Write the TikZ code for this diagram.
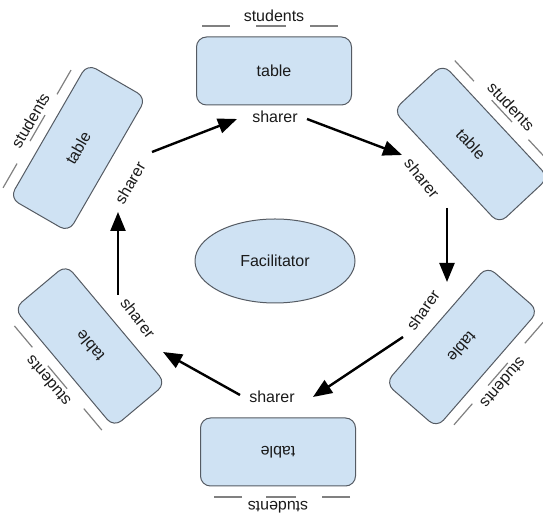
\documentclass[tikz,border=0pt]{standalone}
\usepackage{fontspec}
\setmainfont{Liberation Sans}
\usetikzlibrary{shapes.geometric,arrows.meta}
\definecolor{tblfill}{HTML}{CFE2F3}
\definecolor{tbldraw}{HTML}{555B63}
\definecolor{stgray}{HTML}{808080}
\definecolor{txt}{HTML}{1A1A1A}
\tikzset{
  tablebox/.style={draw=tbldraw, fill=tblfill, line width=1pt, rounded corners=10pt,
    minimum width=155pt, minimum height=68pt, inner sep=0pt,
    font=\fontsize{16}{19}\selectfont, text=txt, transform shape},
  lbl/.style={font=\fontsize{16}{19}\selectfont, text=txt, inner sep=1pt},
  stline/.style={draw=stgray, line width=1.2pt},
  flow/.style={line width=2.4pt, -{Triangle[length=19pt,width=15pt]}},
  facil/.style={ellipse, draw=tbldraw, fill=tblfill, line width=1pt,
    minimum width=160pt, minimum height=84pt, inner sep=0pt,
    font=\fontsize{16}{19}\selectfont, text=txt}
}
\newcommand\mytablegroup[4]{%
  \begin{scope}[shift={(#2,#3)}, rotate=#4]
    \node[tablebox] (T#1) at (0,0) {table};
    \draw[stline] (-72,45) -- (-44,45) (-18,45) -- (12,45) (36,45) -- (64,45);
    \node[lbl, transform shape] (st#1) at (0,55) {students};
  \end{scope}}
\begin{document}
\begin{tikzpicture}[x=1pt,y=1pt]
  \useasboundingbox (0,0) rectangle (543,513);
  % tables with students
  \mytablegroup{1}{274}{442}{0}
  \mytablegroup{2}{471}{369}{-47}
  \mytablegroup{3}{462}{166}{-131}
  \mytablegroup{4}{278}{61}{180}
  \mytablegroup{5}{90}{167}{130}
  \mytablegroup{6}{78}{365}{60}
  % facilitator
  \node[facil] (F) at (275,252) {Facilitator};
  % sharers
  \node[lbl] (S1) at (275,396) {sharer};
  \node[lbl, rotate=-51] (S2) at (422,335) {sharer};
  \node[lbl, rotate=55] (S3) at (423,203) {sharer};
  \node[lbl] (S4) at (272,116) {sharer};
  \node[lbl, rotate=-52] (S5) at (138,195) {sharer};
  \node[lbl, rotate=60] (S6) at (130,330) {sharer};
  % arrow end points
  \coordinate (a1s) at (152,361); \coordinate (a1e) at (237,394);
  \coordinate (a2s) at (307,394); \coordinate (a2e) at (402,358);
  \coordinate (a3s) at (447,305); \coordinate (a3e) at (447,231);
  \coordinate (a4s) at (403,176); \coordinate (a4e) at (313,116);
  \coordinate (a5s) at (240,118); \coordinate (a5e) at (163,161);
  \coordinate (a6s) at (118,218); \coordinate (a6e) at (118,301);
  \draw[flow] (a1s) -- (a1e);
  \draw[flow] (a2s) -- (a2e);
  \draw[flow] (a3s) -- (a3e);
  \draw[flow] (a4s) -- (a4e);
  \draw[flow] (a5s) -- (a5e);
  \draw[flow] (a6s) -- (a6e);
\end{tikzpicture}
\end{document}
